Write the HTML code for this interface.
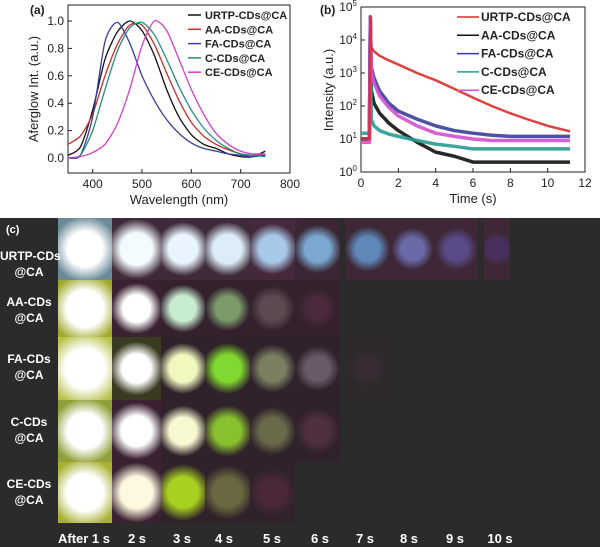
<!DOCTYPE html>
<html><head><meta charset="utf-8">
<style>
body{margin:0;width:600px;height:547px;background:#fff;overflow:hidden;font-family:"Liberation Sans",Arial,sans-serif;position:relative}
svg{position:absolute;left:0;top:0}
#pc{position:absolute;left:0;top:218px;width:600px;height:329px;background:#2b2b2b}
.t{position:absolute;overflow:hidden}
.lbl{position:absolute;color:#fff;font-weight:bold;font-size:12px;text-align:center;line-height:16px;white-space:nowrap}
.cl{position:absolute;color:#fff;font-weight:bold;font-size:13px;top:531px;transform:translateX(-50%);white-space:nowrap}
</style></head><body>
<svg id="chart" width="600" height="218"></svg>
<div id="pc"></div>
<script>
// Panel (a) data
const wavelengths=[350,375,400,425,450,475,500,525,550,575,600,625,650,675,700,725,750];
const urtpA=[0.02,0.08,0.35,0.72,0.92,1.0,0.93,0.75,0.5,0.3,0.17,0.1,0.07,0.03,0.01,0.01,0.05];
const aaA=[0.1,0.16,0.32,0.6,0.83,0.97,0.97,0.83,0.62,0.42,0.26,0.16,0.1,0.06,0.03,0.02,0.02];
const faA=[0.0,0.02,0.3,0.85,0.99,0.84,0.6,0.42,0.28,0.18,0.11,0.07,0.05,0.03,0.02,0.01,0.02];
const cA=[0.0,0.02,0.2,0.5,0.78,0.95,0.99,0.9,0.72,0.52,0.35,0.22,0.13,0.07,0.03,0.02,0.01];
const ceA=[0.0,0.01,0.04,0.1,0.25,0.5,0.82,1.0,0.93,0.72,0.5,0.32,0.18,0.1,0.05,0.03,0.03];
const xTicksA=[400,500,600,700,800];
const yTicksA=[0.0,0.2,0.4,0.6,0.8,1.0];
// Panel (b) data
const times=[0,0.45,0.5,0.55,0.7,1,1.5,2,3,4,5,6,7,8,9,10,11.2];
const urtpB=[10,10,50000,6000,4500,3300,2400,1800,1000,600,330,180,100,60,38,25,17];
const aaB=[10,10,50000,300,120,60,30,18,8,4,3,2,2,2,2,2,2];
const faB=[10,10,50000,1500,700,280,120,70,40,25,18,15,13,12,12,12,12];
const cB=[15,15,50000,40,25,18,14,12,9,7,6,5,5,5,5,5,5];
const ceB=[8,8,50000,1200,500,200,90,50,25,15,12,10,9,9,9,9,9];
const xTicksB=[0,2,4,6,8,10,12];
const yExpB=[0,1,2,3,4,5];
const names=["URTP-CDs@CA","AA-CDs@CA","FA-CDs@CA","C-CDs@CA","CE-CDs@CA"];

const NS="http://www.w3.org/2000/svg",svg=document.getElementById('chart');
function mk(t,a,p){const e=document.createElementNS(NS,t);for(const k in a)e.setAttribute(k,a[k]);(p||svg).appendChild(e);return e;}
function txt(x,y,s,o){const e=mk('text',Object.assign({x:x,y:y,'font-size':12,fill:'#222','font-family':'Liberation Sans, Arial, sans-serif'},o||{}));e.textContent=s;return e;}
function smooth(pts){let d='M'+pts[0][0]+','+pts[0][1];for(let i=0;i<pts.length-1;i++){const p0=pts[i-1]||pts[i],p1=pts[i],p2=pts[i+1],p3=pts[i+2]||p2;d+=' C'+(p1[0]+(p2[0]-p0[0])/8)+','+(p1[1]+(p2[1]-p0[1])/8)+' '+(p2[0]-(p3[0]-p1[0])/8)+','+(p2[1]-(p3[1]-p1[1])/8)+' '+p2[0]+','+p2[1];}return d;}

// Panel a axes
const ax=w=>68+(w-350)*(290-68)/450, ay=v=>158-v*137;
let e=mk('rect',{x:68,y:5,width:222,height:168,fill:'none',stroke:'#222','stroke-width':1});

xTicksA.forEach(t=>{mk('line',{x1:ax(t),x2:ax(t),y1:173,y2:169,stroke:'#222'});const l=txt(ax(t),188,String(t),{'text-anchor':'middle'});});
yTicksA.forEach(t=>{mk('line',{x1:68,x2:72,y1:ay(t),y2:ay(t),stroke:'#222'});const l=txt(64,ay(t)+4,t.toFixed(1),{'text-anchor':'end'});});
e=txt(179,204,'Wavelength (nm)',{'text-anchor':'middle','font-size':13});
e=txt(0,0,'Aferglow Int. (a.u.)',{'text-anchor':'middle','font-size':13,transform:'translate(38,89) rotate(-90)'});
e=txt(30,14,'(a)',{'font-weight':'bold','font-size':12});
const colsA=['#111','#c8302a','#3b3d9c','#2a8a80','#d040c8'];
[urtpA,aaA,faA,cA,ceA].forEach((s,i)=>{const p=mk('path',{d:smooth(s.map((v,j)=>[ax(wavelengths[j]),ay(v)])),fill:'none',stroke:colsA[i],'stroke-width':1.3});
 const y=15+i*14.3;mk('line',{x1:188,x2:201,y1:y,y2:y,stroke:colsA[i],'stroke-width':1.5});const l=txt(205,y+4,names[i],{'font-weight':'bold','font-size':11});});

// Panel b axes
const bx=t=>361+t*(585-361)/12, by=v=>172-Math.log10(v)*33;
e=mk('rect',{x:361,y:7,width:224,height:165,fill:'none',stroke:'#222'});
xTicksB.forEach(t=>{mk('line',{x1:bx(t),x2:bx(t),y1:172,y2:168,stroke:'#222'});const l=txt(bx(t),187,String(t),{'text-anchor':'middle'});});
yExpB.forEach(k=>{const y=by(Math.pow(10,k));mk('line',{x1:361,x2:365,y1:y,y2:y,stroke:'#222'});const l=txt(357,y+4,'10',{'text-anchor':'end'});const s=mk('tspan',{dy:-5,'font-size':8},l);s.textContent=k;});
e=txt(473,203,'Time (s)',{'text-anchor':'middle','font-size':13});
e=txt(0,0,'Intensity (a.u.)',{'text-anchor':'middle','font-size':13,transform:'translate(333,90) rotate(-90)'});
e=txt(320,14,'(b)',{'font-weight':'bold','font-size':12});
const colsB=['#d8302a','#111','#3b3d9c','#2a9a90','#d050d0'];
const order=[1,3,2,4,0];
const seriesB=[urtpB,aaB,faB,cB,ceB];
order.forEach(i=>{const s=seriesB[i];const p=mk('path',{d:s.map((v,j)=>(j?'L':'M')+bx(times[j])+','+by(v)).join(' '),fill:'none',stroke:colsB[i],'stroke-width':i==0?2.5:3.5,'stroke-linejoin':'round',opacity:0.9});});
names.forEach((n,i)=>{const y=17+i*18.3;mk('line',{x1:457,x2:479,y1:y,y2:y,stroke:colsB[i],'stroke-width':1.5});const l=txt(481,y+4,n,{'font-weight':'bold','font-size':12});});

// Panel c photos
const pc=document.getElementById('pc');
function div(cls,st,p){const d=document.createElement('div');d.className=cls;d.style.cssText=st;(p||pc).appendChild(d);return d;}
const colX=[58,112,161,205,250,295,345,390,435,484],colW=[54,49,44,45,45,45,45,45,43,26];
const rowY=[0,62,119,182,244],rowH=[62,57,63,62,61];
const tiles=[
[0,0,'#6a8a98','#ffffff',44],[0,1,'#3e2a3a','#f4fbff',40],[0,2,'#3e2a3a','#e8f4ff',36],[0,3,'#3e2a3a','#dcecf8',36],[0,4,'#44283c','#a8c8e8',34],[0,5,'#3a2634','#7aa8d0',32],[0,6,'#3e2838','#5e88b8',30],[0,7,'#3e2838','#6a6aa8',28],[0,8,'#3e2838','#5a4a88',28],[0,9,'#3e2838','#4a3060',22],
[1,0,'#a0a828','#ffffff',46],[1,1,'#3a2232','#ffffff',34],[1,2,'#33222e','#c8ecd0',32],[1,3,'#33222e','#7c9a6a',30],[1,4,'#33222e','#5c4a50',30],[1,5,'#33222e','#4a2a3c',26],
[2,0,'#b8c048','#ffffff',50],[2,1,'#3a3a22','#ffffff',36],[2,2,'#30222a','#f0f8c0',34],[2,3,'#30222a','#80d830',34],[2,4,'#30222a','#7a8060',32],[2,5,'#30222a','#6a5a68',30],[2,6,'#2e2a2c','#3a2c34',24],
[3,0,'#90a038','#ffffff',44],[3,1,'#3a2232','#ffffff',38],[3,2,'#30222a','#f8f8d0',34],[3,3,'#30222a','#88c030',34],[3,4,'#30222a','#6a6a4a',32],[3,5,'#30222a','#4e3040',30],
[4,0,'#a8b030','#ffffff',46],[4,1,'#3a2232','#fff8e0',40],[4,2,'#30222a','#a8d020',38],[4,3,'#30222a','#6a6840',36],[4,4,'#30222a','#4a2838',32]];
tiles.forEach(t=>{const [r,c,bg,bl,s]=t;const d=div('t',`left:${colX[c]}px;top:${rowY[r]}px;width:${colW[c]}px;height:${rowH[r]}px;background:radial-gradient(circle at 50% 50%, ${bl} 0, ${bl} ${s*0.4}px, ${bg} ${s*0.75}px, ${bg} 100%)`);
 });
const rowLabels=[['URTP-CDs','@CA'],['AA-CDs','@CA'],['FA-CDs','@CA'],['C-CDs','@CA'],['CE-CDs','@CA']];
rowLabels.forEach((l,i)=>{const d=div('lbl',`left:0;width:58px;top:${rowY[i]+(i==0?30:14)}px`);d.innerHTML=l[0]+'<br>'+l[1];});
const pl=div('lbl','left:6px;top:4px;font-size:11px');pl.textContent='(c)';
const colLabels=['After 1 s','2 s','3 s','4 s','5 s','6 s','7 s','8 s','9 s','10 s'];
const colCx=[84,137,182,224,272,320,365,409,455,500];
colLabels.forEach((s,i)=>{const d=document.createElement('div');d.className='cl';d.style.left=colCx[i]+'px';d.textContent=s;document.body.appendChild(d);
 
 });
</script>
</body></html>
